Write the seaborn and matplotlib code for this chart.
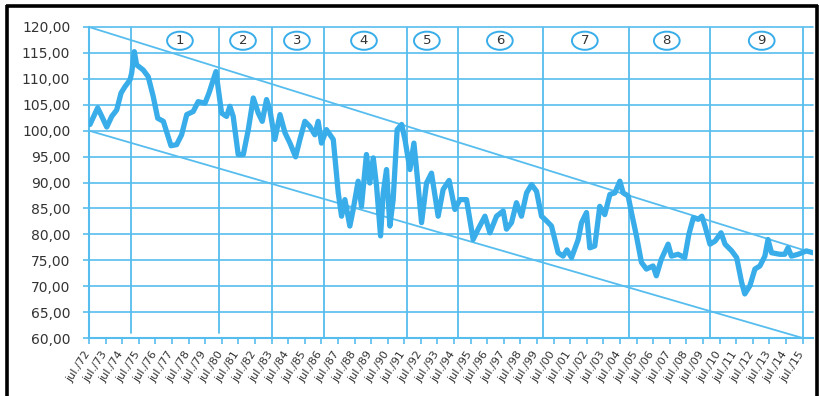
import matplotlib
matplotlib.use("Agg")
import matplotlib.pyplot as plt
import matplotlib.transforms as mtransforms
from matplotlib.patches import Ellipse
from matplotlib.lines import Line2D
import pandas as pd
import seaborn as sns

# Index level by date (decimal years, July 1972 onwards)
dates = [
    1972.56, 1973.02, 1973.22, 1973.57, 1973.87, 1974.17, 1974.43, 1974.67, 1974.97, 1975.07,
    1975.23, 1975.37, 1975.77, 1976.07, 1976.37, 1976.64, 1976.98, 1977.44, 1977.78, 1978.08,
    1978.39, 1978.78, 1979.08, 1979.49, 1979.73, 1980.15, 1980.49, 1980.79, 1980.99, 1981.19,
    1981.49, 1981.80, 1982.10, 1982.40, 1982.70, 1982.94, 1983.20, 1983.40, 1983.70, 1984.01,
    1984.31, 1984.61, 1984.95, 1985.21, 1985.51, 1985.81, 1986.11, 1986.31, 1986.51, 1986.81,
    1987.22, 1987.52, 1987.72, 1987.92, 1988.22, 1988.42, 1988.72, 1988.92, 1989.22, 1989.42,
    1989.63, 1989.83, 1990.07, 1990.23, 1990.43, 1990.63, 1990.83, 1991.07, 1991.34, 1991.54,
    1991.84, 1992.08, 1992.28, 1992.54, 1992.84, 1993.14, 1993.54, 1993.84, 1994.20, 1994.55,
    1994.85, 1995.25, 1995.65, 1995.95, 1996.36, 1996.66, 1997.06, 1997.46, 1997.66, 1997.96,
    1998.26, 1998.56, 1998.87, 1999.17, 1999.47, 1999.77, 2000.07, 2000.37, 2000.77, 2001.07,
    2001.30, 2001.58, 2001.98, 2002.18, 2002.48, 2002.68, 2002.98, 2003.28, 2003.58, 2003.89,
    2004.19, 2004.49, 2004.69, 2004.99, 2005.19, 2005.49, 2005.79, 2006.09, 2006.49, 2006.69,
    2006.99, 2007.40, 2007.60, 2008.00, 2008.40, 2008.65, 2008.92, 2009.22, 2009.43, 2009.62,
    2009.92, 2010.23, 2010.59, 2010.83, 2011.23, 2011.53, 2011.83, 2012.02, 2012.33, 2012.63,
    2012.93, 2013.23, 2013.42, 2013.63, 2014.13, 2014.43, 2014.62, 2014.83, 2015.23, 2015.73,
    2016.13,
]
values = [
    101.2, 104.4, 103.1, 100.7, 102.75, 104.0, 107.25, 108.5, 109.8, 111.1,
    115.25, 112.7, 111.7, 110.4, 106.6, 102.4, 101.8, 97.1, 97.3, 99.2,
    103.1, 103.7, 105.6, 105.3, 107.25, 111.4, 103.4, 102.75, 104.7, 102.75,
    95.4, 95.4, 100.2, 106.3, 103.4, 101.8, 106.0, 104.0, 98.3, 103.1,
    99.6, 97.6, 94.95, 98.3, 101.8, 100.8, 99.2, 101.8, 97.6, 100.2,
    98.3, 88.0, 83.5, 86.7, 81.6, 84.8, 90.25, 85.4, 95.4, 89.9,
    94.75, 89.3, 79.7, 88.0, 92.5, 81.6, 86.7, 100.2, 101.2, 98.3,
    92.5, 97.6, 91.2, 82.25, 89.9, 91.8, 83.5, 88.65, 90.4, 84.8,
    86.7, 86.7, 79.0, 81.0, 83.5, 80.3, 83.5, 84.5, 81.0, 82.25,
    86.1, 83.5, 88.0, 89.6, 88.3, 83.5, 82.6, 81.6, 76.45, 75.8,
    77.0, 75.5, 79.0, 82.25, 84.2, 77.4, 77.75, 85.4, 83.8, 87.7,
    88.0, 90.25, 88.0, 87.4, 84.2, 79.7, 74.6, 73.3, 73.9, 72.0,
    75.2, 78.1, 75.8, 76.15, 75.5, 80.0, 83.2, 82.9, 83.5, 81.6,
    78.1, 78.7, 80.3, 78.1, 76.8, 75.5, 70.7, 68.5, 70.1, 73.3,
    73.9, 75.8, 79.0, 76.45, 76.15, 76.15, 77.4, 75.8, 76.15, 76.8,
    76.45,
]

# Period boundaries and numbered period markers
period_bounds = [1975.03, 1980.33, 1983.52, 1986.66, 1991.66, 1994.73, 1999.85, 2005.03, 2009.90, 2015.50]
short_bounds = [1975.03, 1980.33]
period_labels = ["1", "2", "3", "4", "5", "6", "7", "8", "9"]
period_label_x = [1977.98, 1981.78, 1985.03, 1989.07, 1992.86, 1997.26, 2002.38, 2007.32, 2013.04]

# Trend channel end points
upper_x, upper_y = [1972.5, 2016.13], [120.0, 76.4]
lower_x, lower_y = [1972.5, 2015.5], [100.0, 60.0]

year_ticks = [y + 0.5 for y in range(1972, 2016)]
year_labels = [f"jul./{int(y) % 100:02d}" for y in year_ticks]
y_ticks = list(range(60, 121, 5))

BLUE = "#38ade9"
GRID = "#56bdee"
TEXT = "#333333"

sns.set_theme(style="white")
plt.rcParams["font.family"] = ["DejaVu Sans"]

fig = plt.figure(figsize=(8.19, 3.96), dpi=100)
ax = fig.add_axes([89 / 819, 58 / 396, 724 / 819, 311 / 396])
ax.set_xlim(1972.5, 2016.13)
ax.set_ylim(60, 120)

for v in y_ticks:
    ax.axhline(v, color=GRID, lw=1.2, zorder=1, clip_on=False)
for b in period_bounds:
    ymin = 61 if b in short_bounds else 60
    ax.plot([b, b], [ymin, 120], color=GRID, lw=1.3, zorder=1)

ax.plot(upper_x, upper_y, color=GRID, lw=1.3, zorder=2)
ax.plot(lower_x, lower_y, color=GRID, lw=1.3, zorder=2)

df = pd.DataFrame({"date": dates, "value": values})
sns.lineplot(data=df, x="date", y="value", ax=ax, color=BLUE, lw=3.8,
             sort=False, zorder=4, solid_joinstyle="round", solid_capstyle="round")

for lx, lab in zip(period_label_x, period_labels):
    ax.add_patch(Ellipse((lx, 117.35), width=1.55, height=3.5, facecolor="white",
                         edgecolor=BLUE, lw=1.4, zorder=5))
    ax.text(lx, 117.35, lab, ha="center", va="center", fontsize=9.5, color=TEXT, zorder=6)

ax.set_yticks(y_ticks)
ax.set_yticklabels([f"{v},00" for v in y_ticks])
ax.set_xticks(year_ticks)
ax.set_xticklabels(year_labels, rotation=57, ha="right", rotation_mode="anchor")
ax.tick_params(axis="y", which="major", left=True, length=4, width=1.2, color=GRID,
               labelsize=10, labelcolor=TEXT, pad=9.5)
ax.tick_params(axis="x", which="major", bottom=True, length=4, width=1.2, color=GRID,
               labelsize=8, labelcolor=TEXT, pad=2)

# nudge the slanted date labels a little left and down
shift = mtransforms.ScaledTranslation(-5 / 100, -3 / 100, fig.dpi_scale_trans)
for lbl in ax.get_xticklabels():
    lbl.set_transform(lbl.get_transform() + shift)

ax.set_xlabel("")
ax.set_ylabel("")
ax.grid(False)
for side in ("top", "right"):
    ax.spines[side].set_visible(False)
for side in ("left", "bottom"):
    ax.spines[side].set_color(GRID)
    ax.spines[side].set_linewidth(1.5)

# Black frame around the figure
frame = dict(transform=fig.transFigure, color="black", lw=2.6, solid_capstyle="butt")
fig.add_artist(Line2D([7 / 819, 7 / 819], [0, 1 - 5 / 396], **frame))
fig.add_artist(Line2D([5.7 / 819, 818 / 819], [1 - 6 / 396, 1 - 6 / 396], **frame))
fig.add_artist(Line2D([816.5 / 819, 816.5 / 819], [0, 1 - 5 / 396], **frame))

fig.savefig("out.png", dpi=100, facecolor="white")
